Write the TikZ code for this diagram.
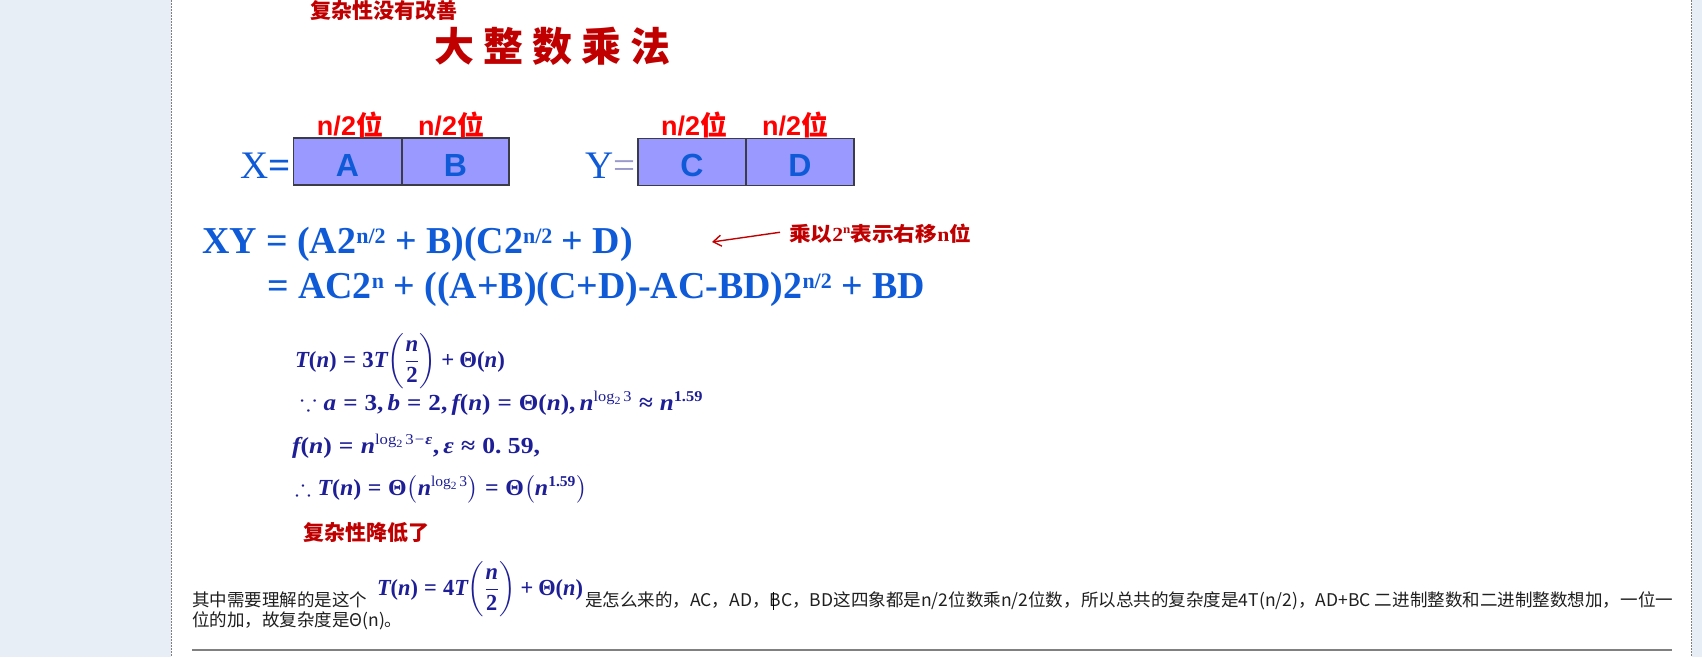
\RequirePackage{fix-cm}
\documentclass[tikz,border=0pt]{standalone}
\usepackage{amsmath,amssymb,graphicx}
\usepackage[no-math]{fontspec}
\setmainfont{Liberation Serif}
\newfontfamily\cjk{Noto Sans CJK SC}
\newfontfamily\arialf{Liberation Sans}
\newfontfamily\tnr{Liberation Serif}
\usetikzlibrary{arrows.meta}
\newcommand{\setfs}[1]{\fontsize{#1}{#1}\selectfont}
\newcommand{\supr}[1]{\raisebox{10pt}{\setfs{22}#1}}
\newcommand{\mvar}[1]{\mbox{\tnr\bfseries\itshape #1}}
\newcommand{\mup}[1]{\mbox{\tnr\bfseries #1}}
\newcommand{\mrel}[1]{\mathrel{\mbox{\tnr\bfseries #1}}}
\newcommand{\mbin}[1]{\mathbin{\mbox{\tnr\bfseries #1}}}
\newcommand{\mcom}{\mathpunct{\mbox{\tnr\bfseries ,}}}
\newcommand{\logtwo}{\mbox{\tnr\setfs{15}log\raisebox{-3pt}{\setfs{11}2}\hspace{2.5pt}3}}
\newcommand{\logtwoeps}{\mbox{\tnr\setfs{15}log\raisebox{-3pt}{\setfs{11}2}\hspace{2.5pt}3\hspace{1pt}−\hspace{1pt}{\bfseries\itshape ε}}}
\newcommand{\onefiftynine}{\mbox{\tnr\bfseries\setfs{15}1.59}}
\definecolor{panel}{RGB}{232,238,246}
\definecolor{titlered}{RGB}{192,0,0}
\definecolor{brightred}{RGB}{255,0,0}
\definecolor{eqblue}{RGB}{15,90,215}
\definecolor{lav}{RGB}{153,153,204}
\definecolor{boxfill}{RGB}{153,153,255}
\definecolor{cellborder}{RGB}{60,60,70}
\definecolor{mathnavy}{RGB}{30,30,150}
\definecolor{rulegray}{RGB}{128,128,128}
\newsavebox{\mOne}
\newsavebox{\mTwo}
\newsavebox{\mThree}
\newsavebox{\mFour}
\newsavebox{\mFive}
\tikzset{
  every node/.style={inner sep=0pt, outer sep=0pt},
  cell/.style={draw=cellborder, line width=1.3pt, fill=boxfill, minimum width=108pt, minimum height=47pt, text height=29pt, text depth=0pt, text=eqblue, font=\arialf\bfseries\setfs{32}},
  bitlabel/.style={anchor=base, text=brightred, font=\arialf\bfseries\setfs{27}},
  eqline/.style={anchor=base west, text=eqblue, font=\tnr\bfseries\setfs{38}},
  mathline/.style={anchor=base west},
  redcjk/.style={anchor=base west, text=titlered, font=\cjk\setfs{21}},
  body/.style={anchor=base west, text=black!88, font=\cjk\setfs{17.5}},
  arrowred/.style={draw=titlered, line width=1.4pt},
}
\begin{document}
\sbox{\mOne}{\color{mathnavy}\setfs{23}$\mvar{T}\mup{(}\mvar{n}\mup{)}\mrel{=}\mup{3}\mvar{T}\biggl(\displaystyle\frac{\mvar{n}}{\mup{2}}\biggr)\mbin{+}\mup{Θ(}\mvar{n}\mup{)}$}
\sbox{\mTwo}{\color{mathnavy}\setfs{23}$\because\mvar{a}\mrel{=}\mup{3}\mcom\mvar{b}\mrel{=}\mup{2}\mcom\mvar{f}\mup{(}\mvar{n}\mup{)}\mrel{=}\mup{Θ(}\mvar{n}\mup{)}\mcom\mvar{n}^{\logtwo}\mrel{≈}\mvar{n}^{\onefiftynine}$}
\sbox{\mThree}{\color{mathnavy}\setfs{23}$\mvar{f}\mup{(}\mvar{n}\mup{)}\mrel{=}\mvar{n}^{\logtwoeps}\mcom\mvar{ε}\mrel{≈}\mup{0.\ 59,}$}
\sbox{\mFour}{\color{mathnavy}\setfs{23}$\therefore\mvar{T}\mup{(}\mvar{n}\mup{)}\mrel{=}\mup{Θ}\bigl(\mvar{n}^{\logtwo}\bigr)\mrel{=}\mup{Θ}\bigl(\mvar{n}^{\onefiftynine}\bigr)$}
\sbox{\mFive}{\color{mathnavy}\setfs{23}$\mvar{T}\mup{(}\mvar{n}\mup{)}\mrel{=}\mup{4}\mvar{T}\biggl(\displaystyle\frac{\mvar{n}}{\mup{2}}\biggr)\mbin{+}\mup{Θ(}\mvar{n}\mup{)}$}
\begin{tikzpicture}[x=1pt,y=-1pt]
\useasboundingbox (0,0) rectangle (1702,657);
\fill[white] (0,0) rectangle (1702,657);
% side panels
\fill[panel] (0,0) rectangle (171,657);
\fill[panel] (1692,0) rectangle (1702,657);
\draw[rulegray, line width=1pt, dash pattern=on 1.5pt off 1.5pt] (171.5,0) -- (171.5,657);
\draw[rulegray, line width=1pt, dash pattern=on 1.5pt off 1.5pt] (1691.5,0) -- (1691.5,657);

% titles
\node[redcjk, font=\cjk\bfseries\setfs{21}] (sub) at (310,18) {复杂性没有改善};
\node[anchor=base west, text=titlered, font=\cjk\bfseries\setfs{40}] (title) at (434,61)
  {大\hspace{9pt}整\hspace{9pt}数\hspace{9pt}乘\hspace{9pt}法};

% X = [A|B]
\node[anchor=base west, text=eqblue, font=\tnr\setfs{39}] (xeq) at (240,178) {X{\bfseries =}};
\node[cell] (A) at (347.5,161.5) {A};
\node[cell, minimum width=107pt] (B) at (455.5,161.5) {B};
\node[bitlabel] (la) at (350,135) {n/2{\cjk\bfseries 位}};
\node[bitlabel] (lb) at (451,135) {n/2{\cjk\bfseries 位}};

% Y = [C|D]
\node[anchor=base west, text=eqblue, font=\tnr\setfs{39}] (yeq) at (585,178) {Y\textcolor{lav}{=}};
\node[cell] (C) at (692,162) {C};
\node[cell] (D) at (800,162) {D};
\node[bitlabel] (lc) at (694,135) {n/2{\cjk\bfseries 位}};
\node[bitlabel] (ld) at (795,135) {n/2{\cjk\bfseries 位}};

% XY expansion
\node[eqline] (xy1) at (202,253) {\resizebox{431pt}{\height}{XY = (A2\supr{n/2} + B)(C2\supr{n/2} + D)}};
\node[eqline] (xy2) at (267,298) {\resizebox{658pt}{\height}{= AC2\supr{n} + ((A+B)(C+D)-AC-BD)2\supr{n/2} + BD}};

% annotation
\node[anchor=base west, text=titlered, font=\cjk\bfseries\setfs{20}] (note) at (789,241)
  {\resizebox{182pt}{\height}{乘以{\tnr\bfseries 2\raisebox{8pt}{\setfs{12}n}}表示右移{\tnr\bfseries n}位}};
\coordinate (tip) at (712,242);
\draw[arrowred, -{Straight Barb[length=8pt,width=11pt]}] ([xshift=-9pt,yshift=1pt]note.west) -- (tip);

% master theorem block
\node[mathline] (m1) at (295,367) {\resizebox{210pt}{\height}{\usebox{\mOne}}};
\node[mathline] (m2) at (300,410) {\resizebox{403pt}{\height}{\usebox{\mTwo}}};
\node[mathline] (m3) at (292,453) {\resizebox{248pt}{\height}{\usebox{\mThree}}};
\node[mathline] (m4) at (295,495) {\resizebox{292pt}{\height}{\usebox{\mFour}}};
\node[redcjk, font=\cjk\bfseries\setfs{21}] (lower) at (303,540) {复杂性降低了};

% bottom paragraph
\node[body] (t1) at (192,606) {其中需要理解的是这个};
\node[mathline] (tf) at (377,595) {\resizebox{206pt}{\height}{\usebox{\mFive}}};
\node[body] (t2) at (585,606) {\resizebox{1088pt}{\height}{是怎么来的，AC，AD，BC，BD这四象都是n/2位数乘n/2位数，所以总共的复杂度是4T(n/2)，AD+BC 二进制整数和二进制整数想加，一位一}};
\node[body] (t3) at (192,626) {位的加，故复杂度是Θ(n)。};
\draw[black, line width=0.8pt] (773.5,592) -- (773.5,610);

% rule
\coordinate (r1) at (192,650);
\coordinate (r2) at (1672,650);
\draw[rulegray, line width=1.5pt] (r1) -- (r2);
\end{tikzpicture}
\end{document}
